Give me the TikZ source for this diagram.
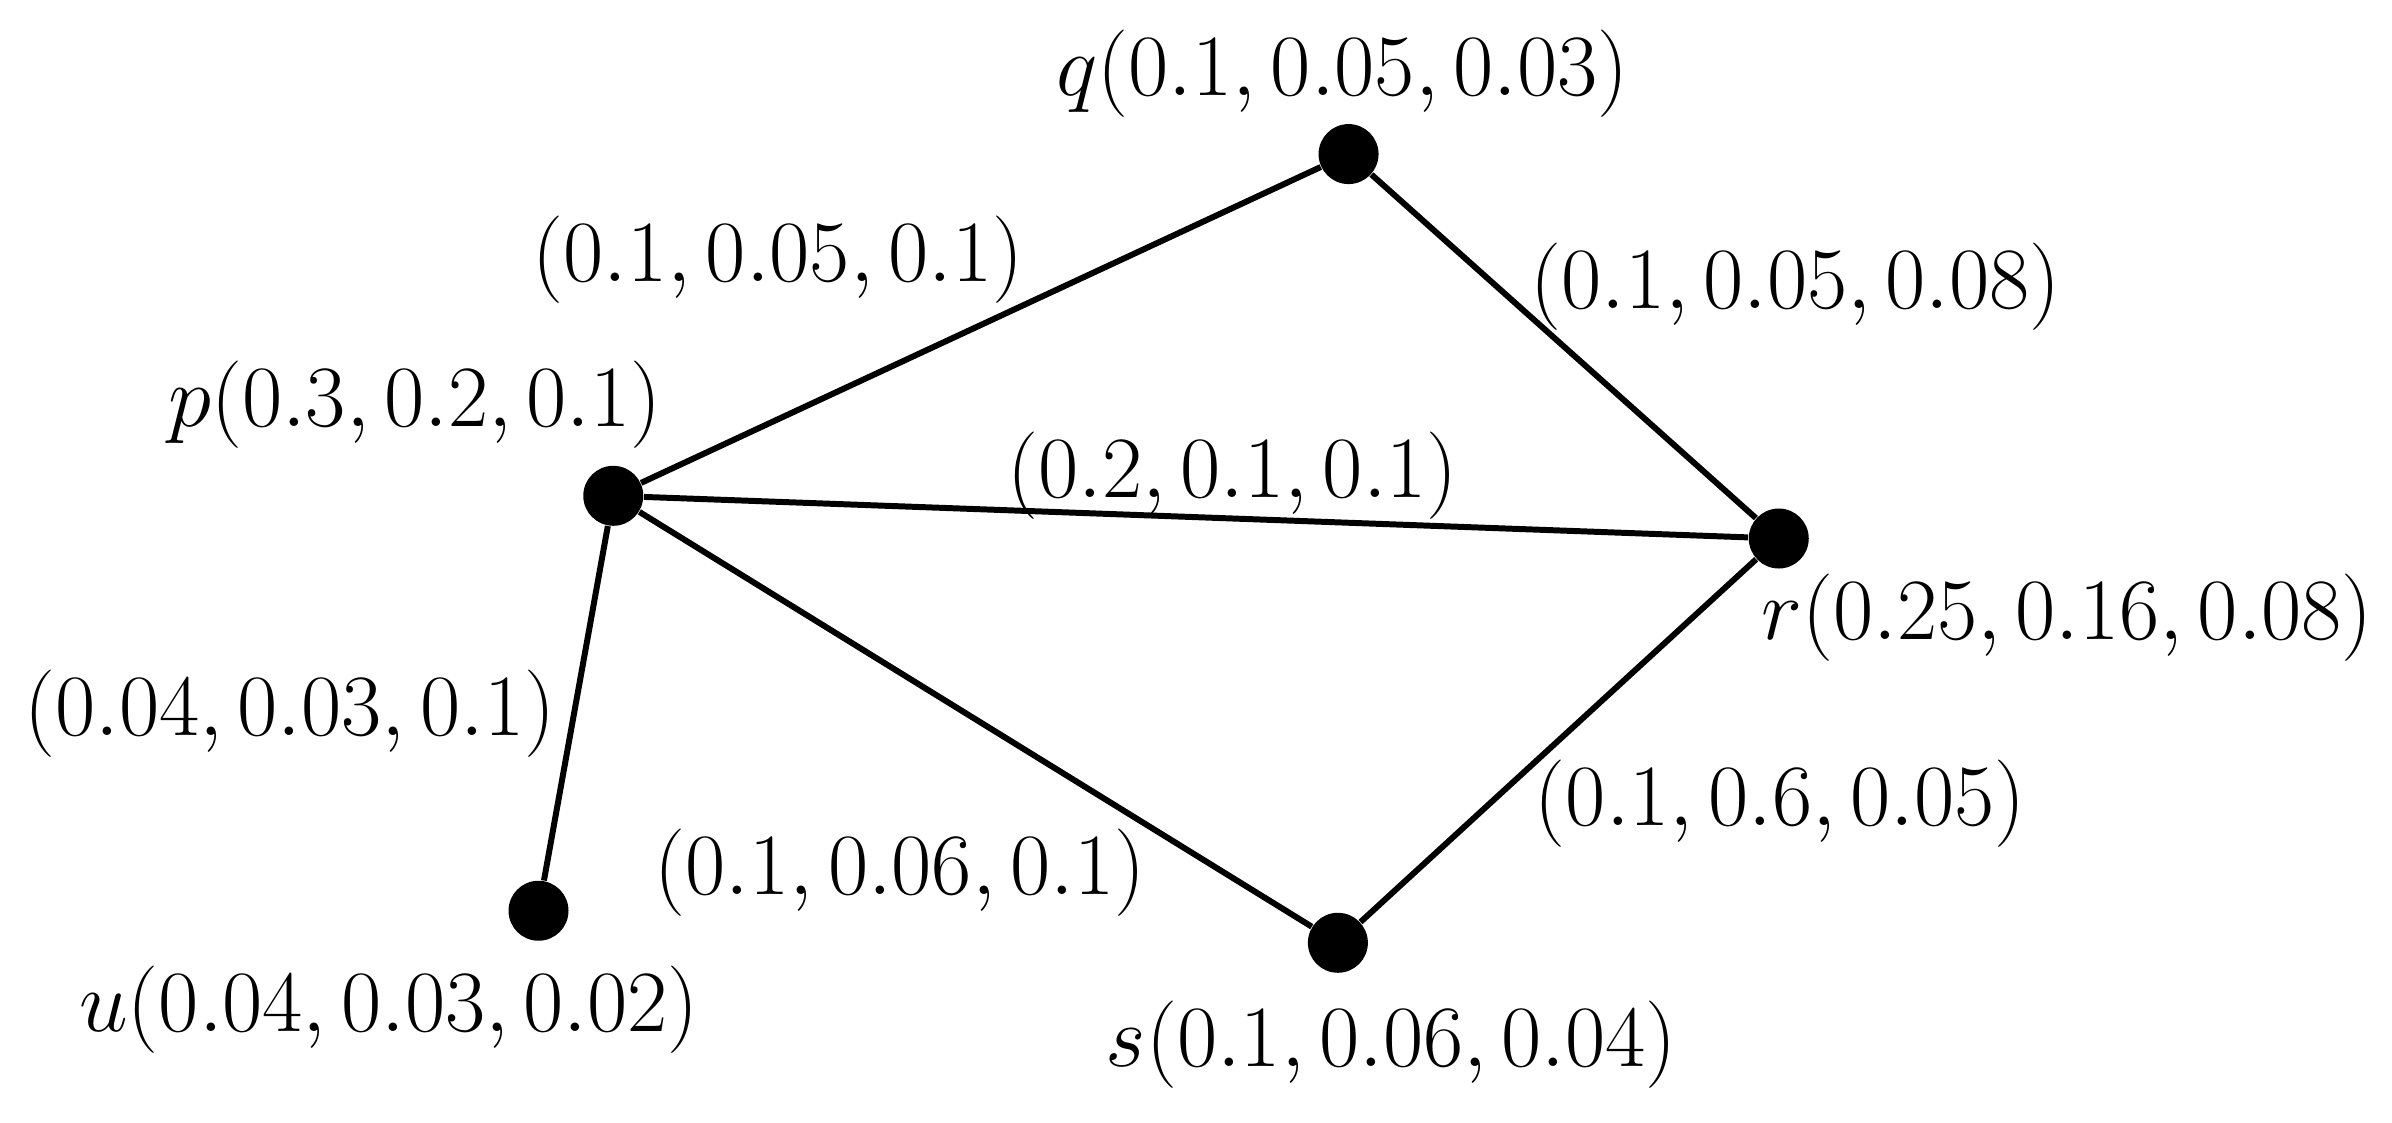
\documentclass[tikz,border=0pt]{standalone}
\begin{document}
\begin{tikzpicture}[x=0.015255cm,y=-0.015255cm,
  dot/.style={circle,fill=black,inner sep=0pt,minimum size=0.6cm},
  lab/.style={font=\fontsize{23.3}{27}\selectfont,inner sep=0pt},
  edge/.style={line width=1.7pt}]
\useasboundingbox (0,0) rectangle (1568,735.5);
\node[dot] (q) at (884,101) {};
\node[dot] (p) at (402,325) {};
\node[dot] (r) at (1166,353) {};
\node[dot] (s) at (877,618) {};
\node[dot] (u) at (353,597) {};
\draw[edge] (p) -- (q) (q) -- (r) (p) -- (r) (p) -- (s) (s) -- (r) (p) -- (u);
\node[lab] (lq) at (880,48) {$q(0.1,0.05,0.03)$};
\node[lab] (lp) at (272,265) {$p(0.3,0.2,0.1)$};
\node[lab] (lr) at (1355,405) {$r(0.25,0.16,0.08)$};
\node[lab] (ls) at (912,685) {$s(0.1,0.06,0.04)$};
\node[lab] (lu) at (255,662) {$u(0.04,0.03,0.02)$};
\node[lab] (epq) at (510,170) {$(0.1,0.05,0.1)$};
\node[lab] (eqr) at (1177,188) {$(0.1,0.05,0.08)$};
\node[lab] (epr) at (808,312) {$(0.2,0.1,0.1)$};
\node[lab] (eps) at (590,572) {$(0.1,0.06,0.1)$};
\node[lab] (ers) at (1167,527) {$(0.1,0.6,0.05)$};
\node[lab] (epu) at (190,468) {$(0.04,0.03,0.1)$};
\end{tikzpicture}
\end{document}
